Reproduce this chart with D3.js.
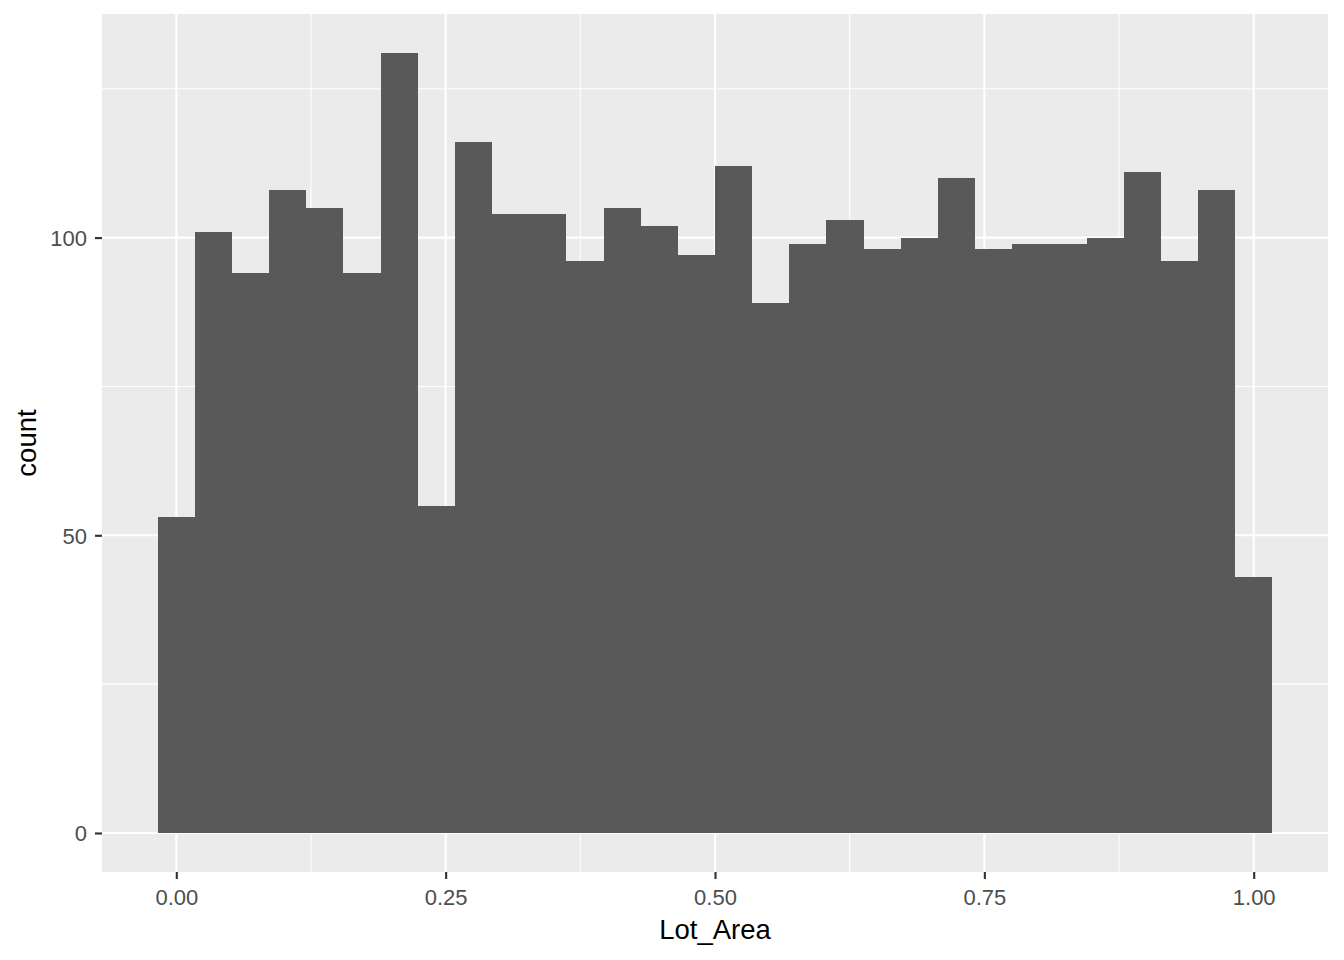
<!DOCTYPE html>
<html>
<head>
<meta charset="utf-8">
<script src="https://cdn.jsdelivr.net/npm/d3@7"></script>
<style>
  body { margin: 0; background: #fff; }
  text { font-family: "Liberation Sans", Arial, sans-serif; }
</style>
</head>
<body>
<script>
// histogram counts, 30 bins centred on 0, 1/29, ..., 1
var counts = [53, 101, 94, 108, 105, 94, 131, 55, 116, 104,
              104, 96, 105, 102, 97, 112, 89, 99, 103, 98,
              100, 110, 98, 99, 99, 100, 111, 96, 108, 43];
var xTicks = [0, 0.25, 0.5, 0.75, 1];
var xMinor = [0.125, 0.375, 0.625, 0.875];
var yTicks = [0, 50, 100];
var yMinor = [25, 75, 125];

var binW = 1 / (counts.length - 1);
var bins = counts.map((c, i) => ({x0: i * binW - binW / 2, x1: i * binW + binW / 2, n: c}));

var W = 1344, H = 960;
var margin = {top: 14, right: 16, bottom: 88, left: 102};

var svg = d3.select('body')
  .append('svg')
  .attr('width', W)
  .attr('height', H);

var xlo = bins[0].x0, xhi = bins[bins.length - 1].x1;
var xpad = (xhi - xlo) * 0.05;
var x = d3.scaleLinear()
  .domain([xlo - xpad, xhi + xpad])
  .range([margin.left, W - margin.right]);

var ymax = d3.max(counts);
var y = d3.scaleLinear()
  .domain([-ymax * 0.05, ymax * 1.05])
  .range([H - margin.bottom, margin.top]);

// panel
svg.append('rect')
  .attr('x', margin.left)
  .attr('y', margin.top)
  .attr('width', W - margin.left - margin.right)
  .attr('height', H - margin.top - margin.bottom)
  .attr('fill', '#EBEBEB');

var grid = svg.append('g');
grid.selectAll('.xminor').data(xMinor).enter().append('line')
  .attr('x1', d => x(d)).attr('x2', d => x(d))
  .attr('y1', margin.top).attr('y2', H - margin.bottom)
  .attr('stroke', '#fff').attr('stroke-width', 1.07);
grid.selectAll('.yminor').data(yMinor).enter().append('line')
  .attr('y1', d => y(d)).attr('y2', d => y(d))
  .attr('x1', margin.left).attr('x2', W - margin.right)
  .attr('stroke', '#fff').attr('stroke-width', 1.07);
grid.selectAll('.xmajor').data(xTicks).enter().append('line')
  .attr('x1', d => x(d)).attr('x2', d => x(d))
  .attr('y1', margin.top).attr('y2', H - margin.bottom)
  .attr('stroke', '#fff').attr('stroke-width', 2.13);
grid.selectAll('.ymajor').data(yTicks).enter().append('line')
  .attr('y1', d => y(d)).attr('y2', d => y(d))
  .attr('x1', margin.left).attr('x2', W - margin.right)
  .attr('stroke', '#fff').attr('stroke-width', 2.13);

// bars
svg.append('g')
  .selectAll('rect')
  .data(bins)
  .enter()
    .append('rect')
    .attr('x', d => x(d.x0))
    .attr('y', d => y(d.n))
    .attr('width', d => x(d.x1) - x(d.x0))
    .attr('height', d => y(0) - y(d.n))
    .attr('fill', '#595959')
    .attr('shape-rendering', 'crispEdges');

// axes
function xAxis(g) {
  g.attr('transform', `translate(0,${H - margin.bottom})`)
   .call(d3.axisBottom(x).tickValues(xTicks).tickFormat(d3.format('.2f')).tickSize(7).tickPadding(10))
  g.select('.domain').remove();
  g.selectAll('line').attr('stroke', '#333').attr('stroke-width', 2.13);
  g.selectAll('text').attr('fill', '#4D4D4D').attr('font-size', '22px');
}
function yAxis(g) {
  g.attr('transform', `translate(${margin.left},0)`)
   .call(d3.axisLeft(y).tickValues(yTicks).tickSize(7).tickPadding(8))
  g.select('.domain').remove();
  g.selectAll('line').attr('stroke', '#333').attr('stroke-width', 2.13);
  g.selectAll('text').attr('fill', '#4D4D4D').attr('font-size', '22px').attr('dy', '0.36em');
}
svg.append('g').call(xAxis);
svg.append('g').call(yAxis);

svg.append('text')
  .attr('x', x(0.5))
  .attr('y', 939)
  .attr('text-anchor', 'middle')
  .attr('font-size', '27.5px')
  .attr('fill', '#000')
  .text('Lot_Area');

svg.append('text')
  .attr('transform', `translate(36,${(margin.top + H - margin.bottom) / 2}) rotate(-90)`)
  .attr('text-anchor', 'middle')
  .attr('font-size', '27.5px')
  .attr('fill', '#000')
  .text('count');
</script>
</body>
</html>
